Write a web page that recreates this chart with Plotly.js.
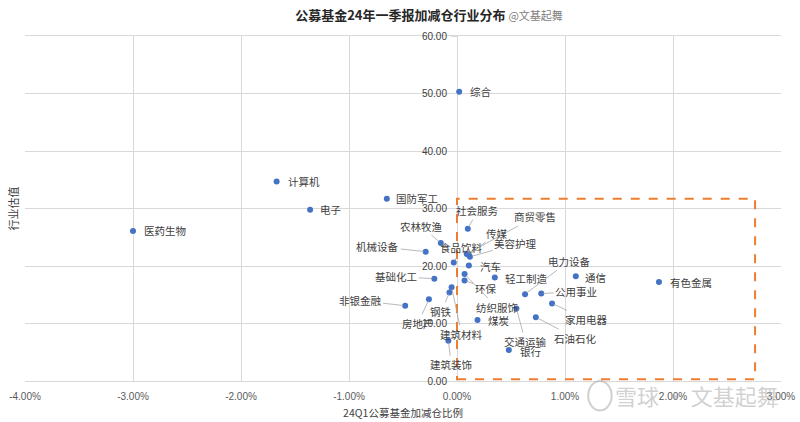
<!DOCTYPE html>
<html>
<head>
<meta charset="utf-8">
<script src="https://cdn.plot.ly/plotly-3.0.1.min.js"></script>
<style>html,body{margin:0;padding:0;background:#fff;}#chart{width:800px;height:422px;}</style>
</head>
<body>
<div id="chart"></div>
<script>
// ---- data ----
const industries = ["综合","计算机","电子","医药生物","国防军工","社会服务","商贸零售","传媒","美容护理","食品饮料",
  "农林牧渔","机械设备","汽车","轻工制造","基础化工","非银金融","房地产","钢铁","建筑材料","建筑装饰",
  "环保","纺织服饰","煤炭","交通运输","银行","电力设备","公用事业","家用电器","石油石化","通信","有色金属"];
// 24Q1 加减仓比例 (%)
const changePct = [0.02,-1.67,-1.36,-3.00,-0.65,0.10,0.09,0.11,0.12,-0.03,
  -0.15,-0.29,0.11,0.35,-0.21,-0.48,-0.26,-0.07,-0.05,-0.08,
  0.07,0.07,0.19,0.55,0.48,0.63,0.78,0.88,0.73,1.10,1.87];
// 行业估值
const valuation = [50.3,34.7,29.8,26.1,31.7,26.5,22.1,21.9,21.6,20.6,
  24.0,22.5,20.1,18.0,17.8,13.1,14.2,15.4,16.3,7.0,
  17.5,18.6,10.6,12.6,5.4,15.1,15.2,13.5,11.1,18.2,17.2];
const xTickVals = [-0.04,-0.03,-0.02,-0.01,0,0.01,0.02,0.03];
const xTickText = ["-4.00%","-3.00%","-2.00%","-1.00%","0.00%","1.00%","2.00%","3.00%"];
const yTickVals = [0,10,20,30,40,50,60];
const yTickText = ["0.00","10.00","20.00","30.00","40.00","50.00","60.00"];
// highlighted quadrant (x in fraction, y in valuation units)
const boxX = [0, 0.0276];
const boxY = [0.3, 31.7];

// ---- label placement (layout only): [leader?, dx, dy] (dy positive = down) ----
const labelPlace = {
  "综合":[false,9,0],"计算机":[false,9,0],"电子":[false,8,0],"医药生物":[false,9,0],"国防军工":[false,7,0],
  "社会服务":[true,10,-18],"商贸零售":[true,68,-37],"传媒":[true,28,-22],"美容护理":[true,46,-13],
  "食品饮料":[true,8,-15],"农林牧渔":[true,-20,-17],"机械设备":[true,-48,-5],"汽车":[false,9,1],
  "轻工制造":[false,8,1],"基础化工":[true,-38,-2],"非银金融":[true,-45,-5],"房地产":[true,-11,24],
  "钢铁":[true,-8,19],"建筑材料":[true,10,47],"建筑装饰":[true,3,24],"环保":[true,21,8],
  "纺织服饰":[true,32,33],"煤炭":[false,8,0],"交通运输":[true,9,33],"银行":[false,9,2],
  "电力设备":[true,44,-33],"公用事业":[true,35,-2],"家用电器":[true,34,16],"石油石化":[true,40,21],
  "通信":[false,7,1],"有色金属":[false,9,0]
};

const cjk = '"Noto Sans CJK SC", "Noto Sans", sans-serif';
const latin = '"Liberation Sans", Arial, sans-serif';

const annotations = industries.map((name, i) => {
  const p = labelPlace[name];
  const base = {x: changePct[i] / 100, y: valuation[i], xref: 'x', yref: 'y', text: name,
    font: {family: cjk, size: 10.5, color: '#404040'}};
  if (p[0]) {
    return Object.assign(base, {showarrow: true, ax: p[1], ay: p[2], arrowhead: 0, arrowwidth: 0.8,
      arrowcolor: '#a6a6a6', standoff: 2});
  }
  return Object.assign(base, {showarrow: false, xanchor: 'left', xshift: p[1], yshift: -p[2]});
});

// axis title for y (placed at the far left)
annotations.push({xref: 'paper', yref: 'paper', x: -0.016, y: 0.5, xanchor: 'center', yanchor: 'middle',
  text: '行业估值', textangle: -90,
  showarrow: false, font: {family: cjk, size: 11, color: '#404040'}});
// watermark
annotations.push({xref: 'paper', yref: 'paper', x: 1.0, y: -0.04, xanchor: 'right', yanchor: 'middle',
  text: '雪球 · 文基起舞', showarrow: false,
  font: {family: cjk, size: 22, color: 'rgba(170,170,170,0.55)'}});

const trace = {
  type: 'scatter', mode: 'markers',
  x: changePct.map(v => v / 100), y: valuation, text: industries,
  marker: {color: '#4472C4', size: 6},
  hoverinfo: 'text'
};

const layout = {
  width: 800, height: 422,
  margin: {l: 25, r: 19, t: 36, b: 41},
  paper_bgcolor: '#fff', plot_bgcolor: '#fff',
  showlegend: false,
  title: {
    text: '<b>公募基金24年一季报加减仓行业分布</b> <span style="font-size:11px;color:#808080;font-weight:normal">@文基起舞</span>',
    font: {family: cjk, size: 13, color: '#262626'},
    x: 429 / 800, xanchor: 'center', xref: 'container',
    y: 1 - 15 / 422, yanchor: 'middle', yref: 'container'
  },
  xaxis: {
    range: [-0.04, 0.03], tickvals: xTickVals, ticktext: xTickText,
    showgrid: true, gridcolor: '#d9d9d9', gridwidth: 1, zeroline: false,
    showline: true, mirror: true, linecolor: '#d9d9d9', linewidth: 1,
    ticks: '', ticklabelstandoff: 6, tickfont: {family: latin, size: 10, color: '#595959'},
    title: {text: '24Q1公募基金加减仓比例', font: {family: cjk, size: 10.5, color: '#404040'}, standoff: 8},
    fixedrange: true
  },
  yaxis: {
    range: [0, 60], tickvals: yTickVals, ticktext: yTickText,
    anchor: 'free', position: 4 / 7, side: 'left',
    showgrid: true, gridcolor: '#d9d9d9', gridwidth: 1, zeroline: false,
    showline: false, ticks: 'outside', ticklen: 6, tickcolor: '#d9d9d9', ticklabelstandoff: 2,
    tickfont: {family: latin, size: 10, color: '#404040'},
    fixedrange: true
  },
  shapes: [
    {type: 'rect', xref: 'x', yref: 'y', x0: boxX[0], x1: boxX[1], y0: boxY[0], y1: boxY[1],
      line: {color: '#ED7D31', width: 2, dash: 'dash'}, fillcolor: 'rgba(0,0,0,0)'},
    {type: 'circle', xref: 'paper', yref: 'paper', x0: 0.745, x1: 0.776, y0: -0.085, y1: -0.0,
      line: {color: 'rgba(170,170,170,0.55)', width: 2}}
  ],
  annotations: annotations
};

Plotly.newPlot('chart', [trace], layout, {displayModeBar: false, staticPlot: true});
</script>
</body>
</html>
